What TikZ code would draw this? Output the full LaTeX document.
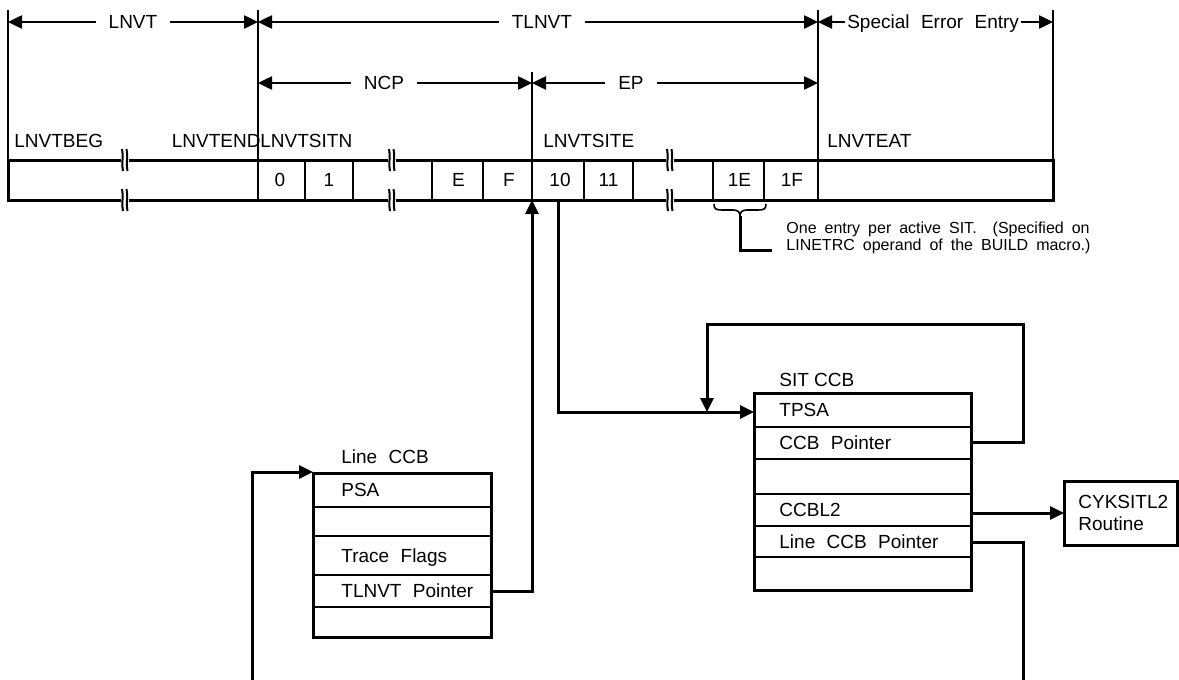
\documentclass[tikz,border=0pt]{standalone}
\usepackage{fontspec}
\setmainfont{Liberation Sans}
\usetikzlibrary{arrows.meta}
\newcommand\wsp{\hspace{0.6em}}
\newcommand\csp{\hspace{0.5em}}
\begin{document}
\begin{tikzpicture}[x=0.5pt,y=-0.5pt,
  thickline/.style={line width=1.5pt},
  dimline/.style={line width=1.25pt},
  thinline/.style={line width=0.8pt},
  tipend/.style={-{Triangle[length=7pt,width=6.5pt]}},
  dimboth/.style={dimline,{Triangle[length=7pt,width=6.5pt]}-{Triangle[length=7pt,width=6.5pt]}},
  lbl/.style={font=\fontsize{9.5}{11}\selectfont, inner sep=0pt, text height=6.8pt, text depth=0pt},
  gaplbl/.style={lbl, fill=white, inner xsep=6.5pt, inner ysep=1pt},
  tightlbl/.style={lbl, fill=white, inner xsep=1pt, inner ysep=1pt},
  caplbl/.style={font=\fontsize{8}{8.6}\selectfont, inner sep=0pt, align=left},
]
\fill[white] (0,0) rectangle (1179,680);
\useasboundingbox (0,0) rectangle (1179,680);

% ---------- dimension lines ----------
\draw[thinline] (8,10) -- (8,160);
\draw[thinline] (258,10) -- (258,200);
\draw[thinline] (818,10) -- (818,200);
\draw[thinline] (1053,10) -- (1053,160);
\draw[thinline] (532,72) -- (532,200);

\coordinate (d0) at (8,22);
\coordinate (d1) at (258,22);
\coordinate (d2) at (818,22);
\coordinate (d3) at (1053,22);
\coordinate (e1) at (258,83);
\coordinate (e2) at (532,83);
\coordinate (e3) at (818,83);

\draw[dimboth] (d0) -- node[gaplbl] (lnvt) {LNVT} (d1);
\draw[dimboth] (d1) -- node[gaplbl,pos=0.507] (tlnvt) {TLNVT} (d2);
\draw[dimboth] (d2) -- node[tightlbl,pos=0.49] (see) {Special\wsp Error\wsp Entry} (d3);
\draw[dimboth] (e1) -- node[gaplbl,pos=0.46] (ncp) {NCP} (e2);
\draw[dimboth] (e2) -- node[gaplbl,pos=0.346] (ep) {EP} (e3);

% ---------- field names ----------
\node[lbl,anchor=base west] (beg) at (14,147) {LNVTBEG};
\node[lbl,anchor=base east] (end) at (261,147) {LNVTEND};
\node[lbl,anchor=base west] (sitn) at (260,147) {LNVTSITN};
\node[lbl,anchor=base west] (site) at (543,147) {LNVTSITE};
\node[lbl,anchor=base west] (eat) at (827,147) {LNVTEAT};

% ---------- table ----------
\draw[thickline] (8,160) rectangle (1053,200);
\foreach \cx in {258,305,353,432,483,532,584,633,713,764,818}
  \draw[thinline] (\cx,160) -- (\cx,200);
\foreach \cx/\ct in {280/0,329/1,458.5/E,509/F,560/10,608.5/11,739.5/1E,792/1F}
  \node[lbl] at (\cx,180) {\ct};

% breaks
\foreach \bx in {125,392,670}
  \foreach \by in {160,200} {
    \fill[white] (\bx-4,\by-3) rectangle (\bx+4,\by+3);
    \draw[line width=1pt] (\bx-3,\by-11) .. controls (\bx-1,\by-4) and (\bx-4,\by+4) .. (\bx-2,\by+11);
    \draw[line width=1pt] (\bx+1.5,\by-11) .. controls (\bx+3.5,\by-4) and (\bx+0.5,\by+4) .. (\bx+2.5,\by+11);
  }

% brace and note
\draw[thinline] (714,204) .. controls (714,209) and (716,210) .. (722,210) -- (733,210)
  .. controls (738,210) and (740,212) .. (740,216)
  .. controls (740,212) and (742,210) .. (747,210) -- (758,210)
  .. controls (764,210) and (766,209) .. (766,204);
\coordinate (br) at (740,216);
\coordinate (brc) at (740,250);
\coordinate (bre) at (772,250);
\draw[thickline] (br) -- (brc) -- (bre);
\node[caplbl,anchor=base west] (note1) at (786,233) {One\csp entry\csp per\csp active\csp SIT.\csp\csp (Specified\csp on};
\node[caplbl,anchor=base west] (note2) at (786,250) {LINETRC\csp operand\csp of\csp the\csp BUILD\csp macro.)};

% ---------- Line CCB ----------
\node[lbl,anchor=base west] (lccbt) at (341,463) {Line\wsp CCB};
\draw[thickline] (313,473) rectangle (491,637);
\foreach \ry in {507,536,575,607}
  \draw[thinline] (313,\ry) -- (491,\ry);
\node[lbl,anchor=west] (psa) at (341,490) {PSA};
\node[lbl,anchor=west] (tf) at (341,555.5) {Trace\wsp Flags};
\node[lbl,anchor=west] (tp) at (341,591) {TLNVT\wsp Pointer};

% ---------- SIT CCB ----------
\node[lbl,anchor=base west] (sccbt) at (779,386) {SIT CCB};
\draw[thickline] (754,393) rectangle (971,590);
\foreach \ry in {427,459,494,526,557}
  \draw[thinline] (754,\ry) -- (971,\ry);
\node[lbl,anchor=west] (tpsa) at (779,410) {TPSA};
\node[lbl,anchor=west] (ccbp) at (779,443) {CCB\wsp Pointer};
\node[lbl,anchor=west] (ccbl2) at (779,510) {CCBL2};
\node[lbl,anchor=west] (lccbp) at (779,541.5) {Line\wsp CCB\wsp Pointer};

% ---------- CYKSITL2 ----------
\draw[thickline] (1064,481) rectangle (1177,545);
\node[lbl,anchor=base west] (cyk1) at (1078,508) {CYKSITL2};
\node[lbl,anchor=base west] (cyk2) at (1078,530) {Routine};

% ---------- connectors ----------
\coordinate (tpR) at (491,591);
\coordinate (tpC) at (532,591);
\coordinate (tblA) at (532,200);
\draw[thickline,tipend] (tpR) -- (tpC) -- (tblA);

\coordinate (tblB) at (558,200);
\coordinate (tblC) at (558,412);
\coordinate (tpsaL) at (754,412);
\draw[thickline,tipend] (tblB) -- (tblC) -- (tpsaL);

\coordinate (ccbR) at (971,442);
\coordinate (lp1) at (1023,442);
\coordinate (lp2) at (1023,324);
\coordinate (lp3) at (707,324);
\coordinate (lp4) at (707,412);
\draw[thickline,tipend] (ccbR) -- (lp1) -- (lp2) -- (lp3) -- (lp4);

\coordinate (l2R) at (971,513);
\coordinate (cykL) at (1064,513);
\draw[thickline,tipend] (l2R) -- (cykL);

\coordinate (lcR) at (971,542);
\coordinate (lc1) at (1023,542);
\coordinate (lc2) at (1023,680);
\draw[thickline] (lcR) -- (lc1) -- (lc2);

\coordinate (lb0) at (252,680);
\coordinate (lb1) at (252,472);
\coordinate (psaL) at (313,472);
\draw[thickline,tipend] (lb0) -- (lb1) -- (psaL);
\end{tikzpicture}
\end{document}
